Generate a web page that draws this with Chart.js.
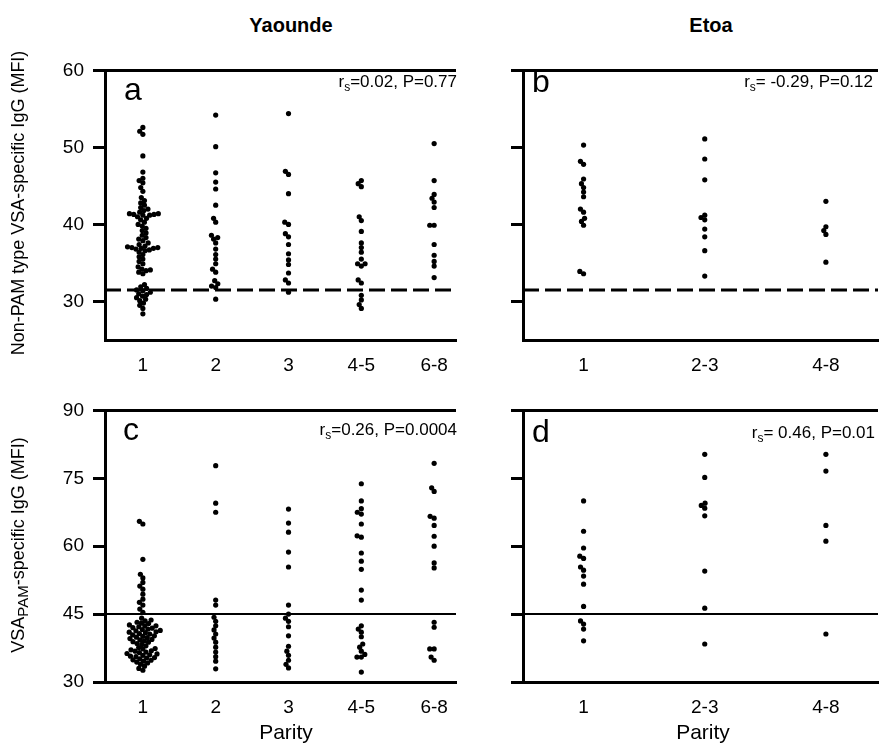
<!DOCTYPE html>
<html><head><meta charset="utf-8">
<script src="https://cdn.jsdelivr.net/npm/chart.js@4.4.1/dist/chart.umd.min.js"></script>
<style>
html,body{margin:0;padding:0;background:#fff;}
body{width:882px;height:743px;position:relative;overflow:hidden;font-family:'Liberation Sans',Arial,sans-serif;color:#000;}
canvas{position:absolute;}
.t{position:absolute;white-space:nowrap;}
.head{font-size:20px;font-weight:bold;line-height:20px;transform:translateX(-50%);}
.letter{font-size:32px;line-height:32px;}
.stat{font-size:17px;line-height:17px;}
.stat sub{font-size:12px;vertical-align:-4px;line-height:0;}
.ytitle{font-size:18px;line-height:18px;transform:translate(-50%,-50%) rotate(-90deg);}
.ytitle sub{font-size:15px;vertical-align:-4px;line-height:0;}
.xtitle{font-size:21px;line-height:21px;transform:translate(-50%,-50%);}
</style></head><body>
<canvas id="ca" width="460" height="330" style="left:0;top:50px"></canvas>
<canvas id="cb" width="472" height="330" style="left:410px;top:50px"></canvas>
<canvas id="cc" width="460" height="330" style="left:0;top:390px"></canvas>
<canvas id="cd" width="472" height="330" style="left:410px;top:390px"></canvas>

<div class="t head" style="left:291px;top:15px">Yaounde</div>
<div class="t head" style="left:711px;top:15px">Etoa</div>

<div class="t letter" style="left:124px;top:73px">a</div>
<div class="t letter" style="left:532px;top:65px">b</div>
<div class="t letter" style="left:123px;top:413px">c</div>
<div class="t letter" style="left:532px;top:415px">d</div>

<div class="t stat" style="right:425px;top:73px">r<sub>s</sub>=0.02, P=0.77</div>
<div class="t stat" style="right:9px;top:73px">r<sub>s</sub>= -0.29, P=0.12</div>
<div class="t stat" style="right:425px;top:421px">r<sub>s</sub>=0.26, P=0.0004</div>
<div class="t stat" style="right:7px;top:424px">r<sub>s</sub>= 0.46, P=0.01</div>

<div class="t ytitle" style="left:18px;top:203px">Non-PAM type VSA-specific IgG (MFI)</div>
<div class="t ytitle" style="left:18px;top:545px">VSA<sub>PAM</sub>-specific IgG (MFI)</div>

<div class="t xtitle" style="left:286px;top:731px">Parity</div>
<div class="t xtitle" style="left:703px;top:731px">Parity</div>

<script>
// ---------- data ----------
const yaoundeCats = ["1", "2", "3", "4-5", "6-8"];
const etoaCats = ["1", "2-3", "4-8"];
const nonPamTicks = [30, 40, 50, 60];
const pamTicks = [30, 45, 60, 75, 90];
const nonPamCutoff = 31.5;
const pamCutoff = 45;

// Panel a: Yaounde, non-PAM type VSA-specific IgG (MFI)
const aParity1 = [52.6, 52.1, 51.7, 48.9, 46.8, 46.0, 45.7, 45.4, 44.8, 44.3,
  43.5, 43.1, 42.8, 42.5, 42.2, 42.0, 41.8, 41.6, 41.4, 41.4, 41.3, 41.3, 41.2, 41.2, 41.0,
  40.8, 40.6, 40.3, 40.0, 39.8, 39.5, 39.2, 38.9, 38.6, 38.3, 38.1, 37.9, 37.6, 37.4, 37.2,
  37.1, 37.0, 37.0, 36.9, 36.9, 36.8, 36.7, 36.6, 36.4, 36.1, 35.8, 35.5, 35.2, 34.9, 34.5,
  34.2, 34.1, 34.0, 33.8, 33.6,
  32.2, 31.9, 31.7, 31.5, 31.4, 31.2, 31.0, 30.9, 30.7, 30.5, 30.3, 30.1, 29.8, 29.5, 29.1, 28.4];
const aParity2 = [54.2, 50.1, 46.7, 45.5, 44.6, 42.5, 40.8, 40.3, 38.6, 38.3, 38.1, 37.6, 36.8,
  36.1, 35.5, 34.9, 34.2, 33.8, 32.7, 32.3, 32.0, 31.8, 30.3];
const aParity3 = [54.4, 46.9, 46.5, 44.0, 40.3, 40.0, 38.8, 38.4, 37.4, 36.2, 35.4, 34.8, 33.7,
  32.8, 32.4, 31.2];
const aParity45 = [45.7, 45.3, 44.9, 41.0, 40.5, 39.1, 37.6, 37.0, 36.4, 35.5, 34.9, 34.9, 34.6,
  32.8, 32.4, 30.8, 30.2, 29.6, 29.1];
const aParity68 = [50.5, 45.7, 43.9, 43.4, 42.9, 42.2, 39.9, 39.9, 37.4, 36.0, 35.2, 34.6, 33.1];

// Panel b: Etoa, non-PAM type VSA-specific IgG (MFI)
const bParity1 = [50.3, 48.2, 47.8, 45.9, 45.3, 44.8, 44.2, 43.6, 42.0, 41.6, 40.8, 40.4, 39.9, 33.9, 33.6];
const bParity23 = [51.1, 48.5, 45.8, 41.2, 40.9, 40.6, 39.4, 38.4, 36.6, 33.3];
const bParity48 = [43.0, 39.7, 39.2, 38.7, 35.1];

// Panel c: Yaounde, VSA-PAM-specific IgG (MFI)
const cParity1 = [65.5, 64.9, 57.1, 53.8, 53.0, 52.0, 51.2, 50.5, 49.4, 48.3, 47.6, 47.0, 46.1, 45.4,
  44.1, 43.7, 43.5, 43.2, 43.0, 42.9, 42.6, 42.4, 42.4, 42.2, 42.0, 41.9, 41.7, 41.6, 41.4, 41.3,
  41.1, 41.0, 40.9, 40.7, 40.6, 40.4, 40.2, 40.1, 39.9, 39.8, 39.6, 39.4, 39.3, 39.1, 38.9, 38.8,
  38.5, 38.3, 38.0, 37.6, 37.4, 37.3, 37.1, 36.9, 36.8, 36.6, 36.5, 36.3, 36.2, 36.0, 35.9, 35.7,
  35.6, 35.4, 35.3, 35.1, 34.9, 34.8, 34.6, 34.4, 34.2, 33.9, 33.5, 33.0, 32.6];
const cParity2 = [77.8, 69.5, 67.5, 48.1, 47.0, 44.3, 43.4, 42.4, 41.5, 40.6, 39.7, 38.8, 37.7,
  36.6, 35.6, 34.6, 32.9];
const cParity3 = [68.2, 65.1, 63.1, 58.7, 55.4, 47.0, 45.0, 44.1, 43.4, 42.2, 40.2, 37.9, 36.8,
  35.9, 34.8, 33.9, 33.1];
const cParity45 = [73.8, 70.0, 68.3, 67.5, 67.1, 64.9, 62.3, 62.0, 58.5, 56.7, 54.9, 50.3, 48.1,
  42.4, 41.7, 41.0, 40.0, 38.4, 37.7, 36.8, 36.1, 35.5, 35.5, 32.2];
const cParity68 = [78.3, 72.9, 72.1, 66.6, 66.2, 64.6, 62.2, 60.0, 56.3, 55.2, 43.2, 42.1, 37.3,
  37.3, 35.5, 34.8];

// Panel d: Etoa, VSA-PAM-specific IgG (MFI)
const dParity1 = [70.0, 63.3, 59.6, 57.8, 57.3, 55.4, 54.7, 53.4, 51.6, 46.7, 43.5, 42.8, 41.7, 39.1];
const dParity23 = [80.3, 75.2, 69.5, 69.0, 68.4, 66.7, 54.5, 46.3, 38.4];
const dParity48 = [80.3, 76.6, 64.6, 61.1, 40.6];

// ---------- drawing ----------
Chart.defaults.font.family = "'Liberation Sans', Arial, sans-serif";
Chart.defaults.color = '#000';

const framePlugin = {
  id: 'frame',
  beforeDatasetsDraw(chart, args, opts) {
    const {ctx, chartArea: a, scales: {y}} = chart;
    ctx.save();
    ctx.strokeStyle = '#000';
    ctx.lineWidth = 3;
    ctx.beginPath(); ctx.moveTo(a.left - 1.5, a.top); ctx.lineTo(a.right, a.top); ctx.stroke();
    const yy = y.getPixelForValue(opts.cutoff);
    ctx.lineWidth = opts.dashed ? 3 : 2;
    ctx.setLineDash(opts.dashed ? [16, 6] : []);
    ctx.beginPath(); ctx.moveTo(a.left, yy); ctx.lineTo(a.right, yy); ctx.stroke();
    ctx.restore();
  }
};

const swarmPlugin = {
  id: 'swarm',
  afterDatasetsUpdate(chart) {
    const D = 4.4;
    chart.data.datasets.forEach((ds, di) => {
      const meta = chart.getDatasetMeta(di);
      const pts = meta.data.slice().sort((p, q) => q.y - p.y);
      const placed = [];
      pts.forEach(p => {
        const cx = p.x;
        const ivs = [];
        placed.forEach(q => {
          const dy = q.y - p.y;
          if (Math.abs(dy) < D) {
            const h = Math.sqrt(D * D - dy * dy);
            ivs.push([q.x - h, q.x + h]);
          }
        });
        const cands = [cx];
        ivs.forEach(iv => cands.push(iv[0], iv[1]));
        cands.sort((a, b) => Math.abs(a - cx) - Math.abs(b - cx));
        let best = cx;
        for (const c of cands) {
          if (ivs.every(iv => c <= iv[0] + 1e-6 || c >= iv[1] - 1e-6)) { best = c; break; }
        }
        p.x = best;
        placed.push(p);
      });
    });
  }
};

function makeChart(id, cats, series, yMin, yMax, yTicks, cutoff, dashed, showYLabels, xMin, xMax, lay) {
  const datasets = series.map((vals, i) => ({
    data: vals.map(v => ({x: i + 1, y: v})),
    pointRadius: 2.6,
    pointBackgroundColor: '#000',
    pointBorderWidth: 0,
    showLine: false
  }));
  return new Chart(document.getElementById(id), {
    type: 'scatter',
    data: {datasets},
    plugins: [framePlugin, swarmPlugin],
    options: {
      responsive: false,
      animation: false,
      events: [],
      layout: {padding: {top: lay.top, right: lay.right, left: 0, bottom: 0}},
      plugins: {
        legend: {display: false},
        tooltip: {enabled: false},
        frame: {cutoff, dashed}
      },
      scales: {
        x: {
          type: 'linear', min: xMin, max: xMax,
          afterBuildTicks: s => { s.ticks = cats.map((c, i) => ({value: i + 1})); },
          afterFit: s => { s.height = lay.xh; },
          grid: {display: false},
          border: {display: true, color: '#000', width: 3},
          ticks: {color: '#000', font: {size: 19}, padding: 6, maxRotation: 0, autoSkip: false,
            callback: v => cats[Math.round(v) - 1] ?? ''}
        },
        y: {
          min: yMin, max: yMax,
          afterBuildTicks: s => { s.ticks = yTicks.map(v => ({value: v})); },
          afterFit: s => { s.width = lay.yw; },
          grid: {display: true, drawOnChartArea: false, drawTicks: true, tickLength: 12, lineWidth: 3, color: '#000'},
          border: {display: true, color: '#000', width: 3},
          ticks: {color: showYLabels ? '#000' : 'rgba(0,0,0,0)', font: {size: 19}, padding: 9}
        }
      }
    }
  });
}

makeChart('ca', yaoundeCats, [aParity1, aParity2, aParity3, aParity45, aParity68],
  25, 60, nonPamTicks, nonPamCutoff, true, true, 0.48, 5.3, {top: 16, right: 2, xh: 40, yw: 105});
makeChart('cb', etoaCats, [bParity1, bParity23, bParity48],
  25, 60, nonPamTicks, nonPamCutoff, true, false, 0.5, 3.43, {top: 16, right: 0, xh: 40, yw: 113});
makeChart('cc', yaoundeCats, [cParity1, cParity2, cParity3, cParity45, cParity68],
  30, 90, pamTicks, pamCutoff, false, true, 0.48, 5.3, {top: 18, right: 2, xh: 38, yw: 105});
makeChart('cd', etoaCats, [dParity1, dParity23, dParity48],
  30, 90, pamTicks, pamCutoff, false, false, 0.5, 3.43, {top: 18, right: 0, xh: 38, yw: 113});
</script>
</body></html>
